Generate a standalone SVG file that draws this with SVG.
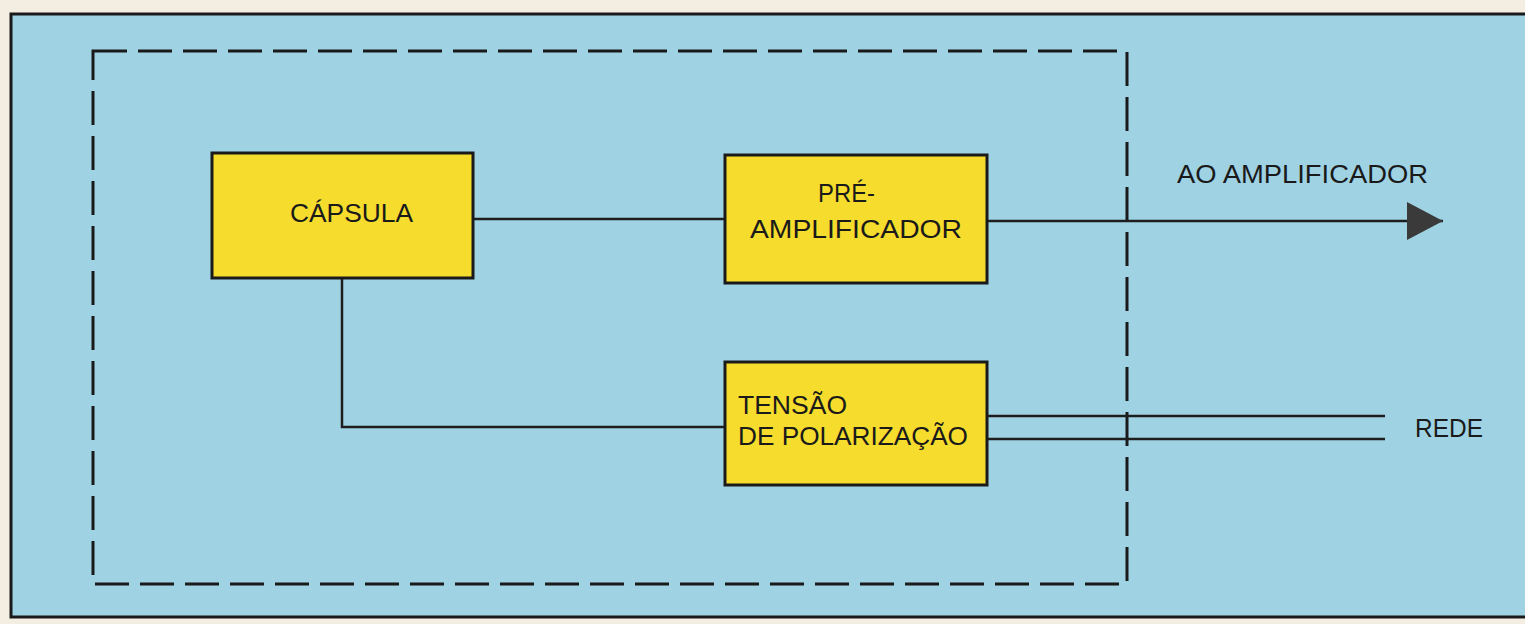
<svg xmlns="http://www.w3.org/2000/svg" width="1525" height="624" viewBox="0 0 1525 624">
  <style>
    .bg { fill: #f4ede2; }
    .panel { fill: #9fd3e4; stroke: #1a1a1a; stroke-width: 3; }
    .dash { fill: none; stroke: #1a1a1a; stroke-width: 3; stroke-dasharray: 34 11; }
    .box { fill: #f6dc2c; stroke: #1a1a1a; stroke-width: 3; }
    .wire { fill: none; stroke: #1e1e1e; stroke-width: 2.5; }
    .lbl { font-family: "Liberation Sans", Arial, sans-serif; font-size: 25px; fill: #1a1a1a; }
  </style>
  <defs>
    <marker id="arrow" viewBox="0 0 36 38" refX="36" refY="19" markerWidth="36" markerHeight="38" markerUnits="userSpaceOnUse" orient="auto">
      <path d="M0,0 L36,19 L0,38 Z" fill="#3a3a3a"/>
    </marker>
  </defs>
  <rect class="bg" x="0" y="0" width="1525" height="624"/>
  <rect class="panel" x="11" y="14" width="1530" height="603"/>
  <rect class="dash" x="93" y="51" width="1034" height="533"/>

  <g id="connectors">
    <line class="wire" x1="473" y1="219" x2="725" y2="219"/>
    <line class="wire" x1="987" y1="221" x2="1443" y2="221" marker-end="url(#arrow)"/>
    <polyline class="wire" points="342,278 342,427 725,427"/>
    <line class="wire" x1="987" y1="416" x2="1385" y2="416"/>
    <line class="wire" x1="987" y1="439" x2="1385" y2="439"/>
  </g>

  <g id="capsula">
    <rect class="box" x="212" y="153" width="261" height="125"/>
    <text class="lbl" x="290" y="222" textLength="123" lengthAdjust="spacingAndGlyphs">CÁPSULA</text>
  </g>

  <g id="pre-amplificador">
    <rect class="box" x="725" y="155" width="262" height="128"/>
    <text class="lbl" x="818" y="202" textLength="57" lengthAdjust="spacingAndGlyphs">PRÉ-</text>
    <text class="lbl" x="750" y="238" textLength="212" lengthAdjust="spacingAndGlyphs">AMPLIFICADOR</text>
  </g>

  <g id="tensao">
    <rect class="box" x="725" y="362" width="262" height="123"/>
    <text class="lbl" x="738" y="414" textLength="109" lengthAdjust="spacingAndGlyphs">TENSÃO</text>
    <text class="lbl" x="738" y="445" textLength="230" lengthAdjust="spacingAndGlyphs">DE POLARIZAÇÃO</text>
  </g>

  <g id="ao-amplificador">
    <text class="lbl" x="1177" y="183" textLength="251" lengthAdjust="spacingAndGlyphs">AO AMPLIFICADOR</text>
  </g>

  <g id="rede">
    <text class="lbl" x="1415" y="437" textLength="68" lengthAdjust="spacingAndGlyphs">REDE</text>
  </g>
</svg>
